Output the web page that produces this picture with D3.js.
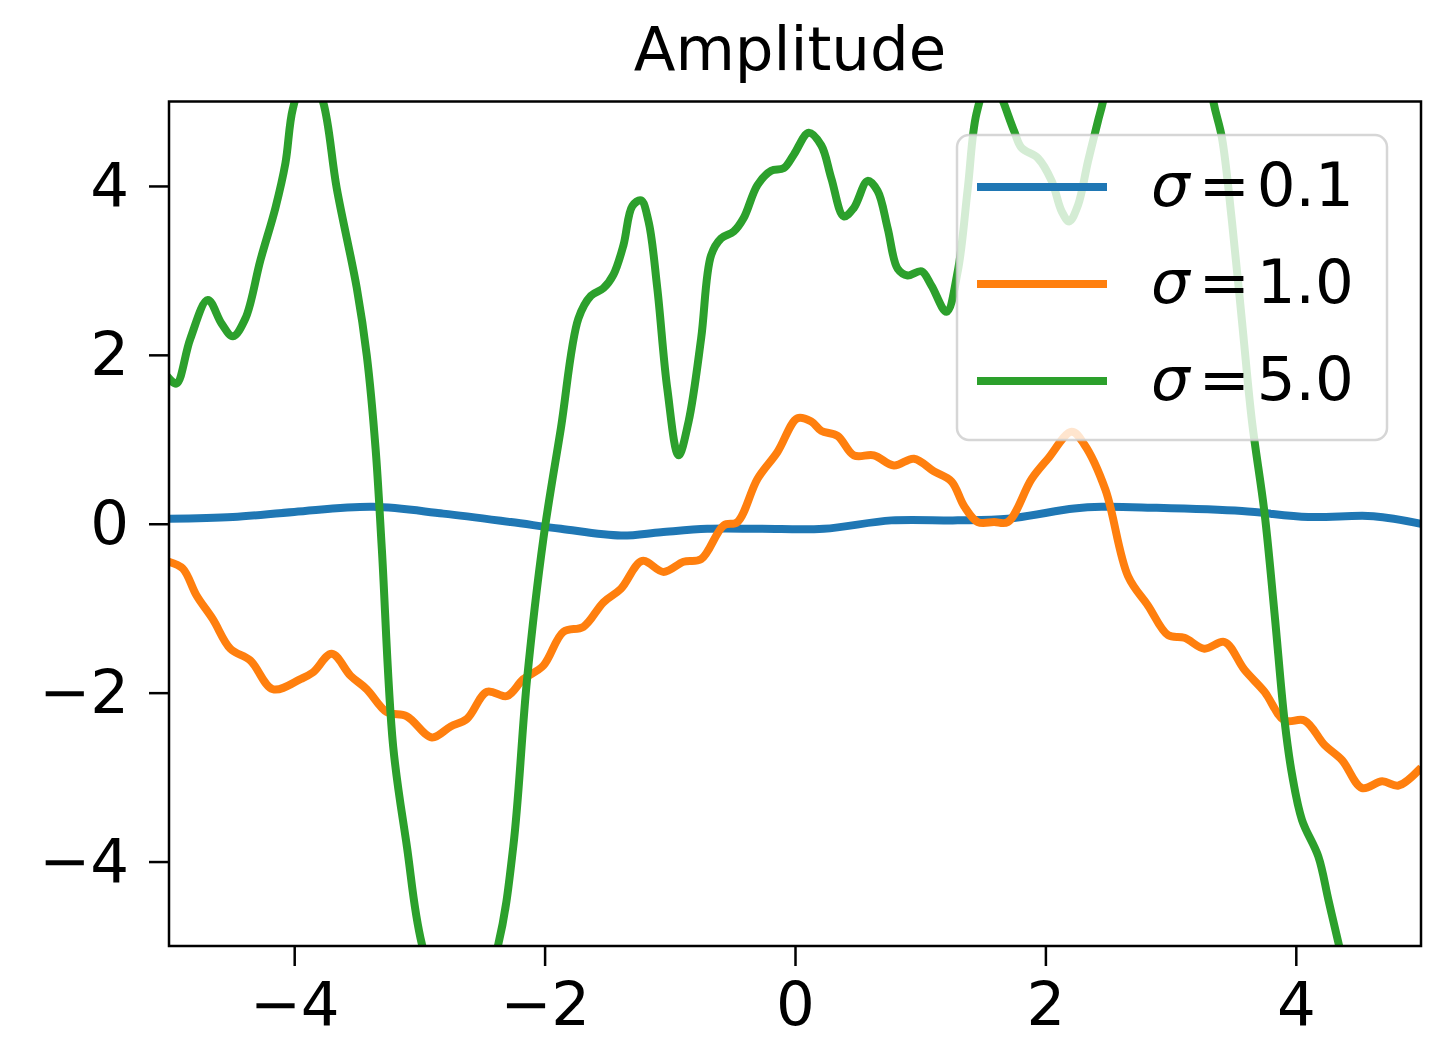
<!DOCTYPE html>
<html>
<head>
<meta charset="utf-8">
<script src="https://cdn.jsdelivr.net/npm/d3@7"></script>
<style>
  html, body { margin: 0; padding: 0; background: #fff; }
  svg { display: block; font-family: "DejaVu Sans", sans-serif; }
</style>
</head>
<body>
<svg id="chart"></svg>
<script>
// values
var xTicks = [-4, -2, 0, 2, 4];
var yTicks = [-4, -2, 0, 2, 4];

var sigmas = ['0.1', '1.0', '5.0'];
var colors = ['#1f77b4', '#ff7f0e', '#2ca02c'];

var blueX = [-5.0, -4.49, -4.0, -3.37, -2.81, -2.27, -1.87, -1.39, -1.07, -0.70, -0.27, 0.23, 0.77, 1.30, 1.70, 2.23, 2.45, 2.85, 3.57, 4.10, 4.62, 5.0];
var blueY = [0.06, 0.08, 0.14, 0.20, 0.12, 0.02, -0.06, -0.14, -0.10, -0.06, -0.06, -0.06, 0.04, 0.04, 0.06, 0.18, 0.20, 0.19, 0.15, 0.08, 0.09, 0.0];

var orangeX = [-5.0, -4.89, -4.78, -4.65, -4.51, -4.35, -4.17, -3.95, -3.85, -3.70, -3.55, -3.42, -3.26, -3.10, -2.90, -2.75, -2.62, -2.46, -2.30, -2.17, -2.01, -1.85, -1.69, -1.53, -1.39, -1.22, -1.05, -0.89, -0.75, -0.57, -0.46, -0.30, -0.14, 0.02, 0.13, 0.21, 0.34, 0.47, 0.63, 0.79, 0.95, 1.11, 1.25, 1.35, 1.46, 1.59, 1.70, 1.89, 2.02, 2.21, 2.31, 2.48, 2.66, 2.82, 2.98, 3.11, 3.27, 3.43, 3.59, 3.75, 3.91, 4.07, 4.23, 4.37, 4.53, 4.69, 4.82, 4.98];
var orangeY = [-0.45, -0.53, -0.85, -1.13, -1.48, -1.62, -1.96, -1.84, -1.76, -1.54, -1.80, -1.96, -2.23, -2.28, -2.53, -2.40, -2.31, -1.99, -2.04, -1.84, -1.68, -1.28, -1.22, -0.93, -0.77, -0.44, -0.57, -0.45, -0.42, -0.02, 0.02, 0.53, 0.85, 1.25, 1.21, 1.10, 1.04, 0.81, 0.81, 0.69, 0.77, 0.62, 0.50, 0.21, 0.02, 0.02, 0.02, 0.53, 0.77, 1.09, 0.94, 0.40, -0.62, -0.97, -1.32, -1.35, -1.48, -1.40, -1.73, -1.99, -2.33, -2.33, -2.62, -2.80, -3.13, -3.05, -3.10, -2.92];

var greenX = [-5.0, -4.94, -4.83, -4.69, -4.58, -4.49, -4.39, -4.27, -4.15, -4.07, -4.01, -3.89, -3.77, -3.66, -3.50, -3.42, -3.35, -3.30, -3.21, -3.10, -2.98, -2.67, -2.37, -2.25, -2.14, -2.01, -1.87, -1.73, -1.63, -1.53, -1.45, -1.37, -1.30, -1.23, -1.17, -1.10, -1.02, -0.93, -0.85, -0.75, -0.67, -0.59, -0.49, -0.41, -0.30, -0.19, -0.09, -0.01, 0.11, 0.21, 0.29, 0.39, 0.47, 0.58, 0.66, 0.74, 0.82, 0.90, 1.01, 1.09, 1.21, 1.30, 1.38, 1.45, 1.57, 1.66, 1.75, 1.81, 1.94, 2.05, 2.13, 2.19, 2.26, 2.34, 2.42, 2.46, 2.69, 2.93, 3.17, 3.34, 3.41, 3.49, 3.57, 3.65, 3.75, 3.83, 3.91, 3.97, 4.05, 4.18, 4.26, 4.34, 4.53, 5.0];
var greenY = [1.72, 1.66, 2.19, 2.65, 2.37, 2.22, 2.43, 3.12, 3.74, 4.27, 4.92, 5.40, 5.00, 3.97, 2.79, 1.99, 0.89, -0.30, -2.63, -3.82, -4.98, -6.35, -4.98, -3.82, -1.84, -0.18, 1.13, 2.43, 2.70, 2.79, 2.95, 3.30, 3.76, 3.83, 3.58, 2.79, 1.60, 0.81, 1.21, 2.19, 3.18, 3.38, 3.46, 3.62, 4.01, 4.18, 4.21, 4.37, 4.63, 4.48, 4.09, 3.64, 3.74, 4.06, 3.94, 3.50, 3.02, 2.94, 2.99, 2.82, 2.51, 2.99, 3.97, 4.86, 5.34, 5.01, 4.65, 4.45, 4.33, 4.06, 3.70, 3.58, 3.77, 4.29, 4.77, 5.00, 6.70, 7.20, 6.70, 5.01, 4.57, 3.58, 2.40, 1.21, 0.13, -1.06, -2.33, -2.97, -3.51, -3.94, -4.45, -4.96, -6.10, -8.60];

var seriesX = [blueX, orangeX, greenX];
var seriesY = [blueY, orangeY, greenY];

(function() {
    'use strict';

    var WIDTH = 1434, HEIGHT = 1039;
    var FONT = 61;
    var left = 169, right = 1421, top = 101.5, bottom = 946;

    var svg = d3.select('#chart').attr('width', WIDTH).attr('height', HEIGHT);

    var x = d3.scaleLinear().domain([-5, 5]).range([left, right]);
    var y = d3.scaleLinear().domain([-5, 5]).range([bottom, top]);

    svg.append('clipPath').attr('id', 'plot-clip')
        .append('rect')
        .attr('x', left).attr('y', top)
        .attr('width', right - left).attr('height', bottom - top);

    // data lines
    var line = d3.line()
        .x(d => x(d[0]))
        .y(d => y(d[1]))
        .curve(d3.curveCatmullRom.alpha(0.5));

    var lines = svg.append('g').attr('clip-path', 'url(#plot-clip)');
    seriesX.forEach(function(xs, i) {
        var pts = xs.map((v, j) => [v, seriesY[i][j]]);
        lines.append('path')
            .attr('d', line(pts))
            .attr('fill', 'none')
            .attr('stroke', colors[i])
            .attr('stroke-width', 8)
            .attr('stroke-linejoin', 'round')
            .attr('stroke-linecap', 'square');
    });

    // axes
    var xAxis = d3.axisBottom(x).tickValues(xTicks).tickSize(20).tickPadding(16);
    var yAxis = d3.axisLeft(y).tickValues(yTicks).tickSize(20).tickPadding(20);

    var gx = svg.append('g').attr('transform', 'translate(0,' + bottom + ')').call(xAxis);
    var gy = svg.append('g').attr('transform', 'translate(' + left + ',0)').call(yAxis);

    [gx, gy].forEach(function(g) {
        g.select('.domain').remove();
        g.selectAll('line').attr('stroke', '#000').attr('stroke-width', 2.5);
        g.selectAll('text')
            .attr('fill', '#000')
            .style('font-size', FONT + 'px')
            .style('font-family', '"DejaVu Sans", sans-serif');
    });

    // frame
    svg.append('rect')
        .attr('x', left).attr('y', top)
        .attr('width', right - left).attr('height', bottom - top)
        .attr('fill', 'none')
        .attr('stroke', '#000')
        .attr('stroke-width', 2.5);

    // title
    svg.append('text')
        .attr('x', (left + right) / 2 - 5)
        .attr('y', 70)
        .attr('text-anchor', 'middle')
        .style('font-size', FONT + 'px')
        .text('Amplitude');

    // legend
    var legend = svg.append('g');
    legend.append('rect')
        .attr('x', 957).attr('y', 135)
        .attr('width', 430).attr('height', 305)
        .attr('rx', 12).attr('ry', 12)
        .attr('fill', 'rgba(255,255,255,0.8)')
        .attr('stroke', 'rgba(204,204,204,0.8)')
        .attr('stroke-width', 2.5);

    sigmas.forEach(function(s, i) {
        var cy = 187 + i * 97;
        legend.append('line')
            .attr('x1', 977).attr('x2', 1107)
            .attr('y1', cy).attr('y2', cy)
            .attr('stroke', colors[i])
            .attr('stroke-width', 8);
        var t = legend.append('text')
            .attr('x', 1151)
            .attr('y', cy + 19)
            .style('font-size', FONT + 'px');
        t.append('tspan').style('font-style', 'italic').text('σ');
        t.append('tspan').attr('dx', 9).text('=');
        t.append('tspan').attr('dx', 7).text(s);
    });
})();
</script>
</body>
</html>
